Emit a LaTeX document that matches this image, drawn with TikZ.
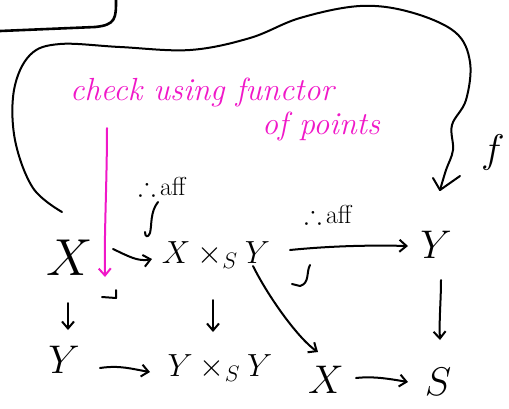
\RequirePackage{fix-cm}
\documentclass[tikz,border=0pt]{standalone}
\usepackage{amssymb}
\usetikzlibrary{arrows.meta}
\definecolor{pen}{HTML}{F018C8}
\tikzset{
  ink/.style={line width=2pt, line cap=round, line join=round, black},
  pink/.style={line width=2pt, line cap=round, line join=round, pen},
  arr/.style={ink, -{Straight Barb[length=7pt,width=12pt,line width=2pt]}},
  parr/.style={pink, -{Straight Barb[length=7pt,width=12pt,line width=2pt]}},
  big/.style={font=\fontsize{52}{52}\selectfont, inner sep=0pt},
  mid/.style={font=\fontsize{40}{40}\selectfont, inner sep=0pt},
  prod/.style={font=\fontsize{32}{32}\selectfont, inner sep=0pt},
  lab/.style={font=\fontsize{26}{26}\selectfont, inner sep=0pt},
  note/.style={font=\fontsize{32}{32}\selectfont\itshape, text=pen, inner sep=0pt},
}
\begin{document}
\begin{tikzpicture}[x=1pt,y=-1pt]
\useasboundingbox (0,0) rectangle (509,408);
% top-left box corner
\draw[ink, line width=2.6pt] (0,31) -- (95,27) .. controls (116,25) and (116,18) .. (116,0);
% nodes
\node[big] (X1) at (70,258) {$X$};
\node[prod] (P) at (216,255) {$X\times_S Y$};
\node[mid] (Y1) at (436,245) {$Y$};
\node[mid] (Y2) at (64,360) {$Y$};
\node[prod] (YY) at (220,368) {$Y\times_S Y$};
\node[mid] (X2) at (326,380) {$X$};
\node[mid] (S) at (438,382) {$S$};
\node[mid] (f) at (493,152) {$f$};
\node[lab] (l1) at (162,186) {$\therefore\,$aff};
\node[lab] (l2) at (328,214) {$\therefore\,$aff};
\node[note, anchor=base west] (t1) at (70,100) {check using functor};
\node[note, anchor=base west] (t2) at (262,134) {of points};
% connectors
\draw[arr] (113,249) .. controls (128,256) and (138,262) .. (152,259);
\draw[arr] (290,250) .. controls (330,246) and (370,245) .. (408,246);
\draw[arr] (68,303) -- (68,330);
\draw[arr] (213,300) -- (213,332);
\draw[arr] (441,280) .. controls (441,300) and (439,320) .. (440,340);
\draw[arr] (100,368) .. controls (120,365) and (132,369) .. (150,372);
\draw[arr] (356,378) .. controls (374,376) and (390,379) .. (408,382);
\draw[arr] (253,266) .. controls (270,300) and (300,340) .. (318,352);
% long loop arrow
\coordinate (b0) at (62,212);
\coordinate (b1) at (440,190);
\draw[ink] plot[smooth, tension=0.6] coordinates {(b0) (33,188) (15,140) (14,90) (30,55) (60,44) (120,47) (190,50) (250,38) (300,18) (360,6) (410,12) (455,32) (470,62) (466,100) (452,125) (453,150) (446,170) (b1)};
\draw[ink] (433,178) -- (440,190) -- (460,176);
% pullback/hook marks
\draw[ink] (158,202) .. controls (150,212) and (152,225) .. (150,233) .. controls (148,238) and (145,237) .. (145,232);
\draw[ink] (310,265) .. controls (306,272) and (310,283) .. (300,286) -- (292,284);
\draw[ink] (116,290) -- (116,298) -- (102,297);
% magenta arrow
\coordinate (m0) at (107,128);
\coordinate (m1) at (105,277);
\draw[parr] (m0) .. controls (107,180) and (104,240) .. (m1);
\end{tikzpicture}
\end{document}
